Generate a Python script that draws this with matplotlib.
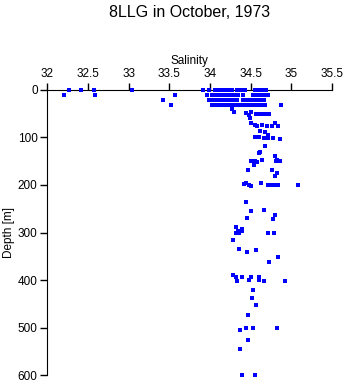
import matplotlib
matplotlib.use("Agg")
import matplotlib.pyplot as plt

plt.rcParams['font.family'] = ['Liberation Sans', 'DejaVu Sans']

# surface rows (depth, salinity values)
sal_0 = [32.26, 32.41, 32.57, 33.04, 33.92, 33.99, 34.06, 34.09, 34.12, 34.15, 34.18,
         34.24, 34.27, 34.33, 34.36, 34.38, 34.43, 34.55, 34.59, 34.62, 34.64, 34.67, 34.69]
sal_11 = [32.21, 32.59, 33.57, 33.97, 34.02, 34.05, 34.08, 34.11, 34.14, 34.17, 34.20,
          34.24, 34.28, 34.31, 34.35, 34.41, 34.53, 34.56, 34.59, 34.63, 34.66, 34.69, 34.71]
sal_21 = [33.42, 33.99, 34.02, 34.04, 34.08, 34.12, 34.15, 34.18, 34.22, 34.26, 34.30,
          34.33, 34.41, 34.46, 34.49, 34.52, 34.55, 34.58, 34.61, 34.64, 34.66]
sal_31 = [33.52, 34.03, 34.06, 34.08, 34.12, 34.16, 34.19, 34.20, 34.24, 34.28, 34.32,
          34.36, 34.39, 34.41, 34.44, 34.47, 34.51, 34.55, 34.60, 34.62, 34.65, 34.68, 34.88]

# deeper samples
sal_deep = [34.27, 34.30, 34.45, 34.48, 34.51, 34.57, 34.61, 34.65, 34.69, 34.73, 34.49,
            34.51, 34.55, 34.58, 34.80, 34.64, 34.70, 34.76, 34.84, 34.62, 34.68,
            34.55, 34.61, 34.66, 34.72, 34.78, 34.86, 34.72, 34.68, 34.62, 34.60,
            34.80, 34.82, 34.50, 34.55, 34.58, 34.64, 34.81, 34.86, 34.54, 34.47, 34.77,
            34.82, 34.80, 34.42, 34.45, 34.48, 34.51, 34.63, 34.71, 34.77, 34.81, 34.84, 35.08,
            34.45, 34.51, 34.66, 34.80, 34.46, 34.78, 34.32, 34.39,
            34.32, 34.35, 34.40, 34.32, 34.36, 34.72, 34.79, 34.28,
            34.36, 34.46, 34.57, 34.84, 34.73,
            34.29, 34.32, 34.33, 34.39, 34.48, 34.51, 34.61, 34.61, 34.66, 34.92,
            34.53, 34.52, 34.57, 34.47, 34.44, 34.53, 34.83, 34.37, 34.47, 34.37, 34.40, 34.55]
depth_deep = [40, 46, 48, 52, 46, 50, 50, 50, 50, 50, 60,
              69, 74, 77, 70, 74, 76, 76, 77, 86, 89,
              100, 100, 102, 101, 102, 103, 95, 119, 130, 133,
              140, 147, 150, 150, 152, 147, 150, 150, 158, 169, 169,
              175, 182, 198, 196, 200, 202, 196, 200, 201, 201, 201, 201,
              236, 254, 253, 263, 269, 272, 289, 292,
              289, 296, 296, 302, 302, 300, 302, 316,
              335, 340, 337, 351, 363,
              389, 394, 403, 394, 400, 394, 394, 400, 401, 401,
              420, 437, 453, 474, 500, 500, 500, 504, 525, 544, 599, 600]

depth_ticks = [0, 100, 200, 300, 400, 500, 600]
sal_ticks = [32, 32.5, 33, 33.5, 34, 34.5, 35, 35.5]

fig = plt.figure(figsize=(3.46, 3.84), dpi=100)
ax = fig.add_axes([0.137, 0.023, 0.822, 0.743])

for d, s in [(0, sal_0), (11, sal_11), (21, sal_21), (31, sal_31)]:
    ax.plot(s, [d] * len(s), 's', color='#0000ff', markersize=2.2, markeredgewidth=0,
            zorder=5, clip_on=False, antialiased=False)
ax.plot(sal_deep, depth_deep, 's', color='#0000ff', markersize=2.2, markeredgewidth=0,
        zorder=5, clip_on=False, antialiased=False)

ax.set_xlim(32, 35.5)
ax.set_ylim(600, 0)
ax.set_xticks(sal_ticks)
ax.set_xticklabels(['32', '32.5', '33', '33.5', '34', '34.5', '35', '35.5'])
ax.set_yticks(depth_ticks)
ax.xaxis.tick_top()
ax.xaxis.set_label_position('top')
ax.spines['right'].set_visible(False)
ax.spines['bottom'].set_visible(False)
ax.tick_params(direction='out', length=5, width=1, labelsize=8.5, pad=2)
ax.set_xlabel('Salinity', fontsize=8.5, labelpad=3)
ax.set_ylabel('Depth [m]', fontsize=8.5, labelpad=2)

fig.text(0.548, 0.968, '8LLG in October, 1973', ha='center', va='center', fontsize=11.5)

fig.savefig('out.png', dpi=100)
